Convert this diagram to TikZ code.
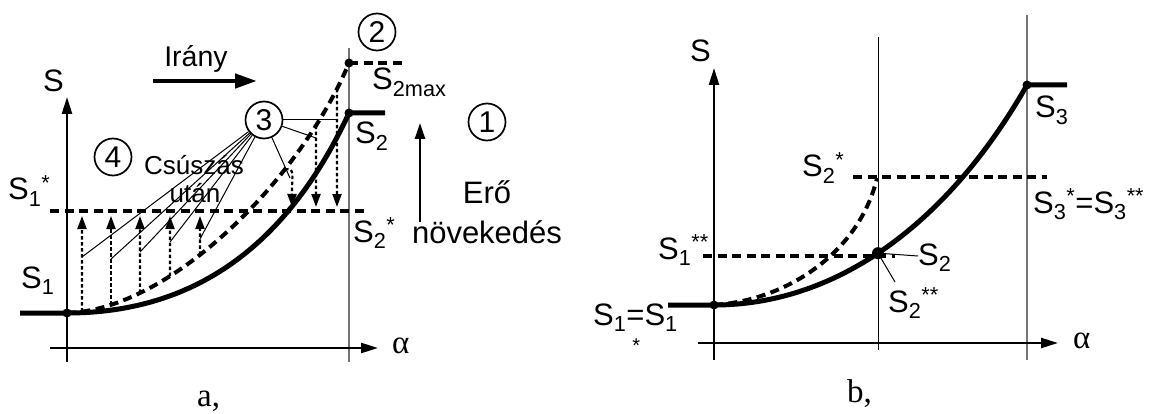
\documentclass[tikz,border=0pt]{standalone}
\usepackage{fontspec}
\setmainfont{Liberation Sans}
\newfontfamily\timesf{Liberation Serif}
\usetikzlibrary{arrows.meta,positioning,calc,intersections}

\begin{document}
\begin{tikzpicture}[x=1pt, y=-1pt,
  axis/.style={line width=2.4pt, -{Triangle[length=17pt,width=10pt]}},
  curve/.style={line width=5pt},
  dline/.style={line width=4pt, dash pattern=on 9pt off 5.5pt},
  dotarr/.style={line width=2.1pt, dash pattern=on 3.5pt off 2.5pt, -{Triangle[length=13pt,width=9pt]}},
  lead/.style={line width=1pt},
  guide/.style={line width=1.2pt, black!55},
  blob/.style={circle, fill, inner sep=0pt, minimum size=#1},
  blob/.default=9pt,
  circ/.style={circle, draw, line width=1.7pt, minimum size=37pt, inner sep=0pt, font=\fontsize{30}{32}\selectfont},
  lbl/.style={inner sep=0pt, anchor=base west, font=\fontsize{31}{33}\selectfont},
  note/.style={inner sep=0pt, anchor=base, font=\fontsize{26}{28}\selectfont},
  greek/.style={inner sep=0pt, anchor=base west, font=\timesf\fontsize{33}{35}\selectfont}
]
\useasboundingbox (0,0) rectangle (1153,414);

% a,
\draw[guide] (349,48) -- (349,362);
\draw[axis] (50,348) -- (378,348);
\draw[axis] (67,362) -- (67,97);

\draw[curve] (20,313) -- (67,313) .. controls (200,313) and (290,240) .. (349,113) -- (385,113);
\draw[dline, name path=dca] (67,313) .. controls (170,310) and (300,180) .. (349,63);
\draw[dline] (349,63) -- (402,63);
\draw[dline] (50,211) -- (365,211);
\node[blob] (a1) at (67,313) {};
\node[blob] (a2) at (349,113) {};
\node[blob] (a2m) at (349,63) {};

\node[circ] (c2) at (377,32) {2};
\node[circ] (c1) at (487,122) {1};
\node[circ] (c3) at (264,120) {3};
\node[circ] (c4) at (113,157) {4};

\foreach \i/\xx/\yy in {1/82/257,2/111/259,3/140/252,4/170/242,5/200/239}{
  \path[name path=vv] (\xx,200) -- (\xx,330);
  \path[name intersections={of=dca and vv, by={u\i}}];
  \draw[dotarr] (u\i) -- (\xx,216);
  \coordinate (l\i) at (\xx,\yy);
  \draw[lead] (c3) -- (l\i);
}
\foreach \i/\xx in {6/316,7/337,8/285}{
  \path[name path=vv] (\xx,50) -- (\xx,200);
  \path[name intersections={of=dca and vv, by={u\i}}];
}
\draw[dotarr] (u6) -- (316,207);
\draw[dotarr] (u7) -- (337,207);
\draw[dotarr] (u8) .. controls (293,169) .. (292,188) -- (292,207);
\coordinate (l6) at (290,178);
\coordinate (l7) at (316,138);
\coordinate (l8) at (337,120);
\draw[lead] (c3) -- (l6);
\draw[lead] (c3) -- (l7);
\draw[lead] (c3) -- (l8);

\coordinate (ia) at (153,81);
\coordinate (ib) at (257,81);
\draw[line width=4.5pt, -{Triangle[length=22pt,width=14pt]}] (ia) -- (ib);
\coordinate (ea) at (420,222);
\coordinate (eb) at (420,123);
\draw[line width=2.4pt, -{Triangle[length=16pt,width=10pt]}] (ea) -- (eb);

\node[lbl] (sa) at (43,92) {S};
\node[lbl] (s1s) at (8,200) {S\textsubscript{1}\textsuperscript{*}};
\node[lbl] (s1) at (21,288) {S\textsubscript{1}};
\node[lbl] (s2max) at (372,90) {S\textsubscript{2max}};
\node[lbl] (s2) at (355,144) {S\textsubscript{2}};
\node[lbl] (s2s) at (353,242) {S\textsubscript{2}\textsuperscript{*}};
\node[note] (csu) at (194,175) {Csúszás};
\node[note] (utan) at (195,203) {után};
\node[note, font=\fontsize{28.5}{30}\selectfont] (irany) at (196,67) {Irány};
\node[lbl, anchor=base] (ero) at (487,204) {Erő};
\node[lbl, anchor=base] (nov) at (487,243) {növekedés};
\node[greek] (alfa) at (392,353) {α};
\node[greek] (pa) at (197,406) {a,};

% b,
\draw[lead, name path=vb] (878,37) -- (878,350);
\draw[guide] (1027,15) -- (1027,360);
\draw[axis] (698,343) -- (1058,343);
\draw[axis] (714,360) -- (714,68);

\draw[curve, name path=sb] (668,305) -- (714,305) .. controls (840,305) and (950,220) .. (1027,85) -- (1067,85);
\draw[dline] (714,305) .. controls (790,300) and (860,250) .. (877,178);
\draw[dline] (853,177) -- (1047,177);
\draw[dline] (703,256) -- (895,256);
\path[name intersections={of=sb and vb, by=b2}];
\node[blob] (b1) at (714,305) {};
\node[blob=12pt] (b2d) at (b2) {};
\node[blob] (b3) at (1027,85) {};
\coordinate (t2) at (918,256);
\coordinate (t2s) at (895,282);
\draw[lead] (b2) -- (t2);
\draw[lead] (b2) -- (t2s);

\node[lbl] (sb) at (690,62) {S};
\node[lbl] (q2s) at (802,177) {S\textsubscript{2}\textsuperscript{*}};
\node[lbl] (q1ss) at (658,259) {S\textsubscript{1}\textsuperscript{**}};
\node[lbl] (q1) at (593,325) {S\textsubscript{1}\rlap{\hspace{6pt}\raisebox{-27pt}{\fontsize{20}{20}\selectfont *}}=S\textsubscript{1}};
\node[lbl] (q2) at (918,265) {S\textsubscript{2}};
\node[lbl] (q2ss) at (888,312) {S\textsubscript{2}\textsuperscript{**}};
\node[lbl] (q3) at (1035,118) {S\textsubscript{3}};
\node[lbl] (q3s) at (1033,213) {S\textsubscript{3}\textsuperscript{*}=S\textsubscript{3}\textsuperscript{**}};
\node[greek] (alfb) at (1073,348) {α};
\node[greek] (pb) at (847,402) {b,};
\end{tikzpicture}
\end{document}
